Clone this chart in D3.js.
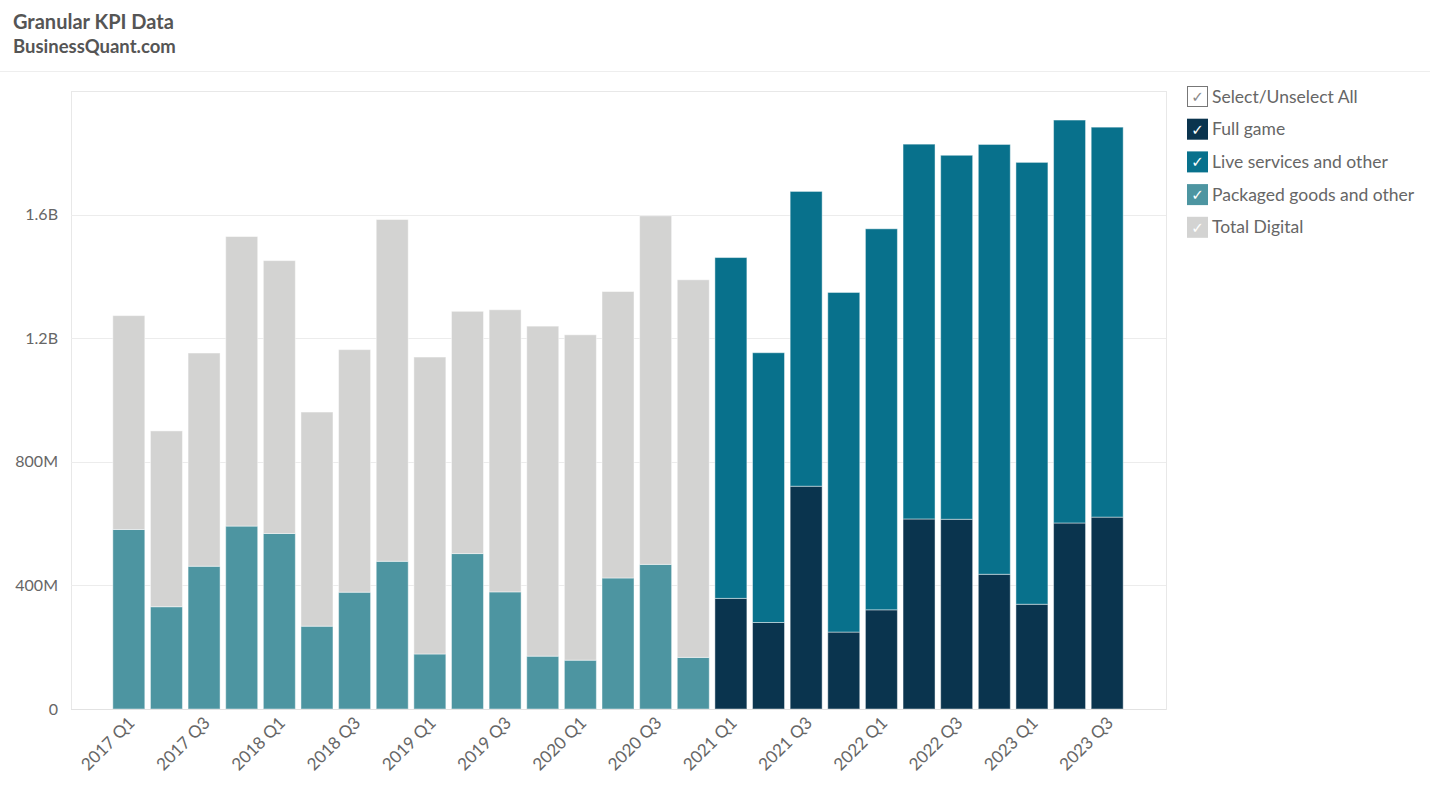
<!DOCTYPE html>
<html>
<head>
<meta charset="utf-8">
<script src="https://cdn.jsdelivr.net/npm/d3@7"></script>
<style>
  html, body { margin: 0; padding: 0; background: #fff; }
  svg { display: block; font-family: Lato, "Open Sans", sans-serif; }
</style>
</head>
<body>
<svg id="chart" width="1430" height="787"></svg>
<script>
// ---- data ----
const quarters = [
  "2017 Q1","2017 Q2","2017 Q3","2017 Q4",
  "2018 Q1","2018 Q2","2018 Q3","2018 Q4",
  "2019 Q1","2019 Q2","2019 Q3","2019 Q4",
  "2020 Q1","2020 Q2","2020 Q3","2020 Q4",
  "2021 Q1","2021 Q2","2021 Q3","2021 Q4",
  "2022 Q1","2022 Q2","2022 Q3","2022 Q4",
  "2023 Q1","2023 Q2","2023 Q3"
];
// values in millions of USD (0 = not reported for that quarter)
const fullGame =         [0,0,0,0, 0,0,0,0, 0,0,0,0, 0,0,0,0, 358,280,721,249, 321,615,614,436, 339,602,621];
const liveServices =     [0,0,0,0, 0,0,0,0, 0,0,0,0, 0,0,0,0, 1103,873,954,1099, 1233,1213,1178,1391, 1430,1304,1262];
const packagedGoods =    [581,331,462,592, 568,268,378,478, 178,503,379,171, 158,424,468,167, 0,0,0,0, 0,0,0,0, 0,0,0];
const totalDigital =     [692,569,690,937, 883,693,785,1106, 961,784,913,1068, 1053,927,1128,1222, 0,0,0,0, 0,0,0,0, 0,0,0];
const seriesNames = ["Full game","Live services and other","Packaged goods and other","Total Digital"];
const seriesColors = ["#0a344e","#08718c","#4d95a1","#d3d3d2"];
const yTicks = [0, 400, 800, 1200, 1600];
const yTickLabels = ["0","400M","800M","1.2B","1.6B"];
const xLabelEvery = 2;

// ---- build table ----
const seriesValues = [fullGame, liveServices, packagedGoods, totalDigital];
const table = quarters.map((q, i) => {
  const row = { quarter: q };
  seriesNames.forEach((s, j) => row[s] = seriesValues[j][i]);
  return row;
});

const svg = d3.select("#chart");
const W = 1430, H = 787;
const plot = { left: 71, right: 1166, top: 91, bottom: 709 };

// header
svg.append("text").attr("x", 13).attr("y", 29)
  .attr("font-size", 20).attr("font-weight", 700).attr("fill", "#555")
  .text("Granular KPI Data");
svg.append("text").attr("x", 13).attr("y", 53)
  .attr("font-size", 18.5).attr("font-weight", 700).attr("fill", "#555")
  .text("BusinessQuant.com");
svg.append("line").attr("x1", 0).attr("x2", W).attr("y1", 71.5).attr("y2", 71.5)
  .attr("stroke", "#eeeeee").attr("stroke-width", 1);

// scales
const x = d3.scaleBand().domain(quarters)
  .range([plot.left + 39, plot.right - 40])
  .paddingInner(0.15).paddingOuter(0.075);
const y = d3.scaleLinear().domain([0, 2000]).range([plot.bottom, plot.top]);

// frame
svg.append("rect")
  .attr("x", plot.left + 0.5).attr("y", plot.top + 0.5)
  .attr("width", plot.right - plot.left).attr("height", plot.bottom - plot.top)
  .attr("fill", "none").attr("stroke", "#e8e8e8");

// grid
svg.append("g").selectAll("line").data(yTicks.filter(t => t > 0)).join("line")
  .attr("x1", plot.left).attr("x2", plot.right)
  .attr("y1", d => Math.round(y(d)) + 0.5).attr("y2", d => Math.round(y(d)) + 0.5)
  .attr("stroke", "#ececec");

// y axis
const yAxis = d3.axisLeft(y).tickValues(yTicks)
  .tickFormat((d, i) => yTickLabels[i]).tickSize(0).tickPadding(0);
const gy = svg.append("g").attr("transform", `translate(${plot.left - 13},0)`).call(yAxis);
gy.select(".domain").remove();
gy.selectAll("text").attr("font-size", 16).attr("fill", "#666")
  .attr("font-family", "Lato, sans-serif");

// stack
const stack = d3.stack().keys(seriesNames);
const layers = stack(table);

svg.append("g").selectAll("g").data(layers).join("g")
  .attr("fill", (d, i) => seriesColors[i])
  .selectAll("rect").data(d => d.filter(p => p[1] - p[0] > 0)).join("rect")
  .attr("x", d => x(d.data.quarter))
  .attr("width", x.bandwidth())
  .attr("y", d => y(d[1]))
  .attr("height", d => y(d[0]) - y(d[1]))
  .attr("stroke", "rgba(255,255,255,0.45)")
  .attr("stroke-width", 1);

// baseline
svg.append("line").attr("x1", plot.left).attr("x2", plot.right)
  .attr("y1", plot.bottom + 0.5).attr("y2", plot.bottom + 0.5)
  .attr("stroke", "#e2e2e2");

// x axis labels
const xAxis = d3.axisBottom(x)
  .tickValues(quarters.filter((q, i) => i % xLabelEvery === 0))
  .tickSize(0).tickPadding(0);
const gx = svg.append("g").attr("transform", `translate(0,${plot.bottom})`).call(xAxis);
gx.select(".domain").remove();
gx.selectAll("text")
  .attr("font-size", 17).attr("fill", "#666").attr("font-family", "Lato, sans-serif")
  .attr("text-anchor", "end")
  .attr("dy", null).attr("y", 0)
  .attr("transform", "translate(7,15) rotate(-45)");

// legend
const legendItems = [{ name: "Select/Unselect All", color: null }]
  .concat(seriesNames.map((s, i) => ({ name: s, color: seriesColors[i] })));
const lg = svg.append("g").attr("transform", "translate(1187,86)");
const item = lg.selectAll("g").data(legendItems).join("g")
  .attr("transform", (d, i) => `translate(0,${i * 32.7})`);
item.append("rect")
  .attr("x", d => d.color ? 0 : 0.5).attr("y", d => d.color ? 0 : 0.5)
  .attr("width", d => d.color ? 21 : 20).attr("height", d => d.color ? 21 : 20)
  .attr("fill", d => d.color || "#fff")
  .attr("stroke", d => d.color ? "none" : "#777");
item.append("text")
  .attr("x", 10.5).attr("y", 16).attr("text-anchor", "middle")
  .attr("font-size", 15).attr("fill", d => d.color ? "#fff" : "#888")
  .attr("font-family", "DejaVu Sans, sans-serif")
  .text("\u2713");
item.append("text")
  .attr("x", 25).attr("y", 16.5)
  .attr("font-size", 17.5).attr("fill", "#666")
  .text(d => d.name);
</script>
</body>
</html>
